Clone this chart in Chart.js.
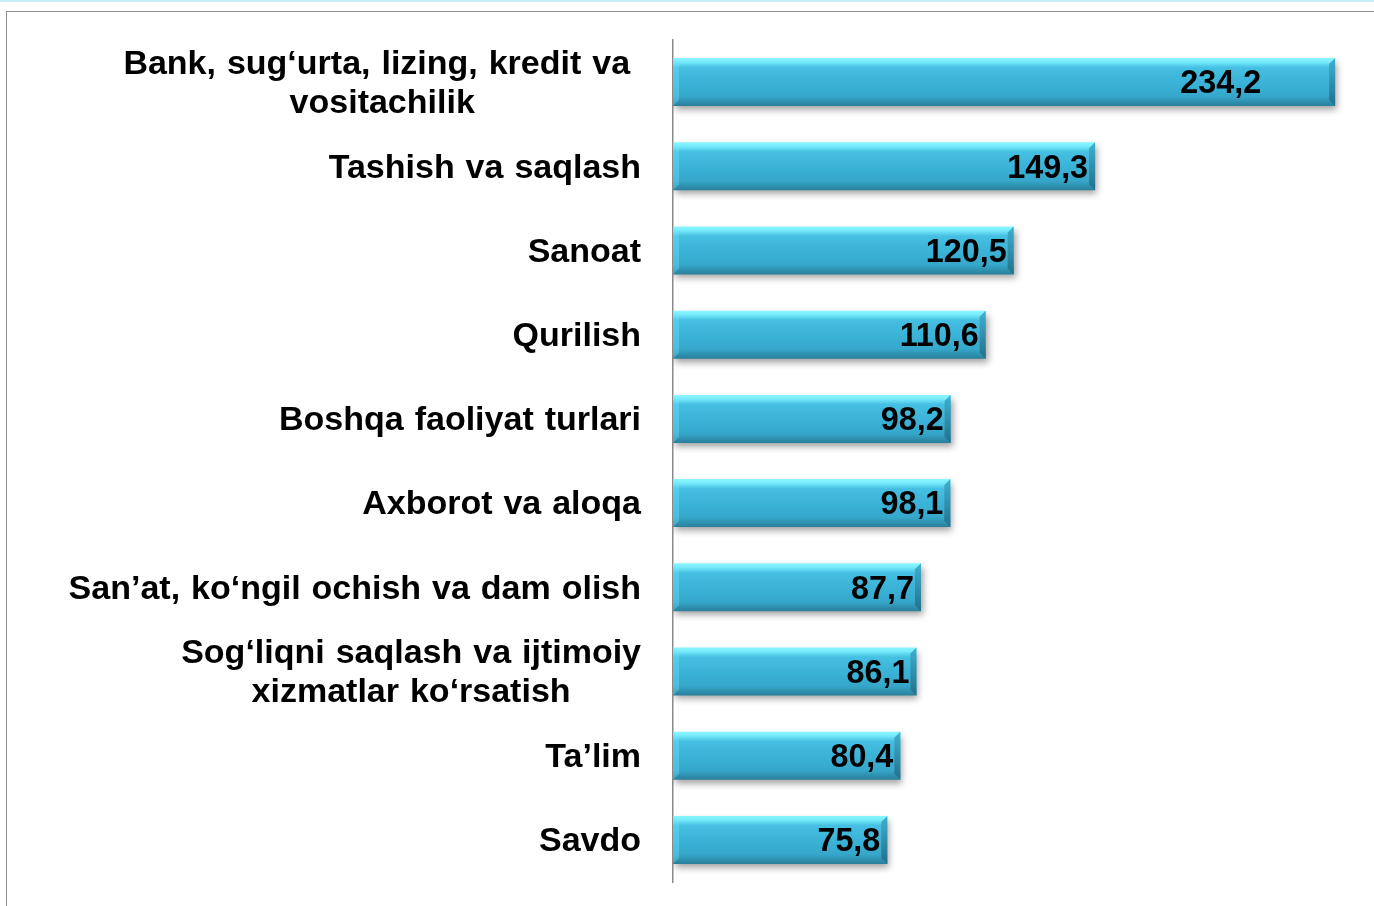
<!DOCTYPE html>
<html>
<head>
<meta charset="utf-8">
<script src="https://cdn.jsdelivr.net/npm/chart.js@4/dist/chart.umd.min.js"></script>
<style>
  html, body { margin: 0; padding: 0; background: #fff; }
  #wrap { position: relative; width: 1374px; height: 906px; overflow: hidden; }
  #topline { position: absolute; left: 0; top: 0; width: 1374px; height: 2px; background: #c9eef9; }
  #frame { position: absolute; left: 6px; top: 11px; width: 1400px; height: 1000px; border: 1.5px solid #8e8e8e; }
  canvas { position: absolute; left: 0; top: 0; }
</style>
</head>
<body>
<div id="wrap">
  <div id="topline"></div>
  <div id="frame"></div>
  <canvas id="chart" width="1374" height="906"></canvas>
</div>
<script>
const categories = [
  ['Bank, sug‘urta, lizing, kredit va ', 'vositachilik'],
  ['Tashish va saqlash'],
  ['Sanoat'],
  ['Qurilish'],
  ['Boshqa faoliyat turlari'],
  ['Axborot va aloqa'],
  ['San’at, ko‘ngil ochish va dam olish'],
  ['Sog‘liqni saqlash va ijtimoiy', 'xizmatlar ko‘rsatish'],
  ['Ta’lim'],
  ['Savdo'],
];
const values = [234.2, 149.3, 120.5, 110.6, 98.2, 98.1, 87.7, 86.1, 80.4, 75.8];

const LABEL_FONT = 'bold 34px "Liberation Sans", Arial, sans-serif';
const VALUE_FONT = 'bold 34px "Liberation Sans", Arial, sans-serif';
const BAR_SHARE = 0.57;

// bar fill: vertical gradient per bar, positioned from the y scale
function barFill(context) {
  const chart = context.chart;
  const yScale = chart.scales.y;
  if (!yScale || context.dataIndex == null) return '#3cb2d6';
  const band = yScale.height / categories.length;
  const h = band * BAR_SHARE;
  const top = yScale.getPixelForValue(context.dataIndex) - h / 2;
  if (!Number.isFinite(top) || !Number.isFinite(h) || h <= 0) return '#3cb2d6';
  const g = chart.ctx.createLinearGradient(0, top, 0, top + h);
  g.addColorStop(0, '#8af7ff');
  g.addColorStop(0.08, '#78ecfd');
  g.addColorStop(0.2, '#45bfe2');
  g.addColorStop(0.5, '#3bb3d8');
  g.addColorStop(0.8, '#36a7cb');
  g.addColorStop(0.9, '#2f93b2');
  g.addColorStop(1, '#2a7f9a');
  return g;
}

const shadowPlugin = {
  id: 'barShadow',
  beforeDatasetDraw(chart) {
    const ctx = chart.ctx;
    ctx.save();
    ctx.shadowColor = 'rgba(0,0,0,0.38)';
    ctx.shadowBlur = 7;
    ctx.shadowOffsetX = 2;
    ctx.shadowOffsetY = 4;
  },
  afterDatasetDraw(chart) {
    chart.ctx.restore();
  },
};

// bevelled ends on each bar
const bevelPlugin = {
  id: 'bevel',
  afterDatasetsDraw(chart) {
    const ctx = chart.ctx;
    const meta = chart.getDatasetMeta(0);
    const b = 6;
    meta.data.forEach(bar => {
      const left = bar.base, right = bar.x;
      const top = bar.y - bar.height / 2, bottom = bar.y + bar.height / 2;
      ctx.save();
      // right end
      ctx.beginPath();
      ctx.moveTo(right, top);
      ctx.lineTo(right, bottom);
      ctx.lineTo(right - b, bottom - b);
      ctx.lineTo(right - b, top + b);
      ctx.closePath();
      const g = ctx.createLinearGradient(0, top, 0, bottom);
      g.addColorStop(0, '#3fb0cf');
      g.addColorStop(1, '#23708a');
      ctx.fillStyle = g;
      ctx.fill();
      // left end
      ctx.beginPath();
      ctx.moveTo(left, top);
      ctx.lineTo(left + b, top + b);
      ctx.lineTo(left + b, bottom - b);
      ctx.lineTo(left, bottom);
      ctx.closePath();
      ctx.fillStyle = 'rgba(120,230,250,0.35)';
      ctx.fill();
      ctx.restore();
    });
  },
};

const labelsPlugin = {
  id: 'labels',
  afterDraw(chart) {
    const ctx = chart.ctx;
    const yScale = chart.scales.y;
    const labelRight = 641;
    const lineH = 39;
    ctx.save();
    ctx.fillStyle = '#000';
    ctx.font = LABEL_FONT;
    ctx.wordSpacing = '1.5px';
    ctx.textBaseline = 'middle';
    categories.forEach((lines, i) => {
      const cy = yScale.getPixelForValue(i) + 2;
      if (lines.length === 1) {
        ctx.textAlign = 'right';
        ctx.fillText(lines[0], labelRight, cy);
      } else {
        const w = Math.max(...lines.map(l => ctx.measureText(l).width));
        const cx = labelRight - w / 2;
        ctx.textAlign = 'center';
        lines.forEach((l, k) => {
          const line = l.trimEnd();
          const shift = (ctx.measureText(l).width - ctx.measureText(line).width) / 2;
          ctx.fillText(line, cx - shift, cy + (k - (lines.length - 1) / 2) * lineH);
        });
      }
    });

    // value labels inside bar ends, slightly condensed
    ctx.font = VALUE_FONT;
    ctx.wordSpacing = '0px';
    ctx.textAlign = 'right';
    const meta = chart.getDatasetMeta(0);
    meta.data.forEach((bar, i) => {
      const inset = i === 0 ? 74 : 7;
      ctx.save();
      ctx.translate(bar.x - inset, bar.y + 2);
      ctx.scale(0.95, 1);
      ctx.fillText(String(values[i]).replace('.', ','), 0, 0);
      ctx.restore();
    });
    ctx.restore();
  },
};

new Chart(document.getElementById('chart'), {
  type: 'bar',
  data: {
    labels: categories.map(c => c.join(' ')),
    datasets: [{
      data: values,
      backgroundColor: barFill,
      borderWidth: 0,
      categoryPercentage: BAR_SHARE,
      barPercentage: 1,
    }],
  },
  options: {
    indexAxis: 'y',
    responsive: false,
    animation: false,
    layout: { padding: { left: 672, top: 40, right: 22.5, bottom: 24 } },
    plugins: { legend: { display: false }, tooltip: { enabled: false } },
    scales: {
      x: { display: false, min: 0, max: 240 },
      y: {
        ticks: { display: false },
        grid: { display: false, drawTicks: false },
        border: { display: true, color: '#8a8a8a', width: 1.5 },
        afterFit: s => { s.width = 1; },
      },
    },
  },
  plugins: [shadowPlugin, bevelPlugin, labelsPlugin],
});
</script>
</body>
</html>
